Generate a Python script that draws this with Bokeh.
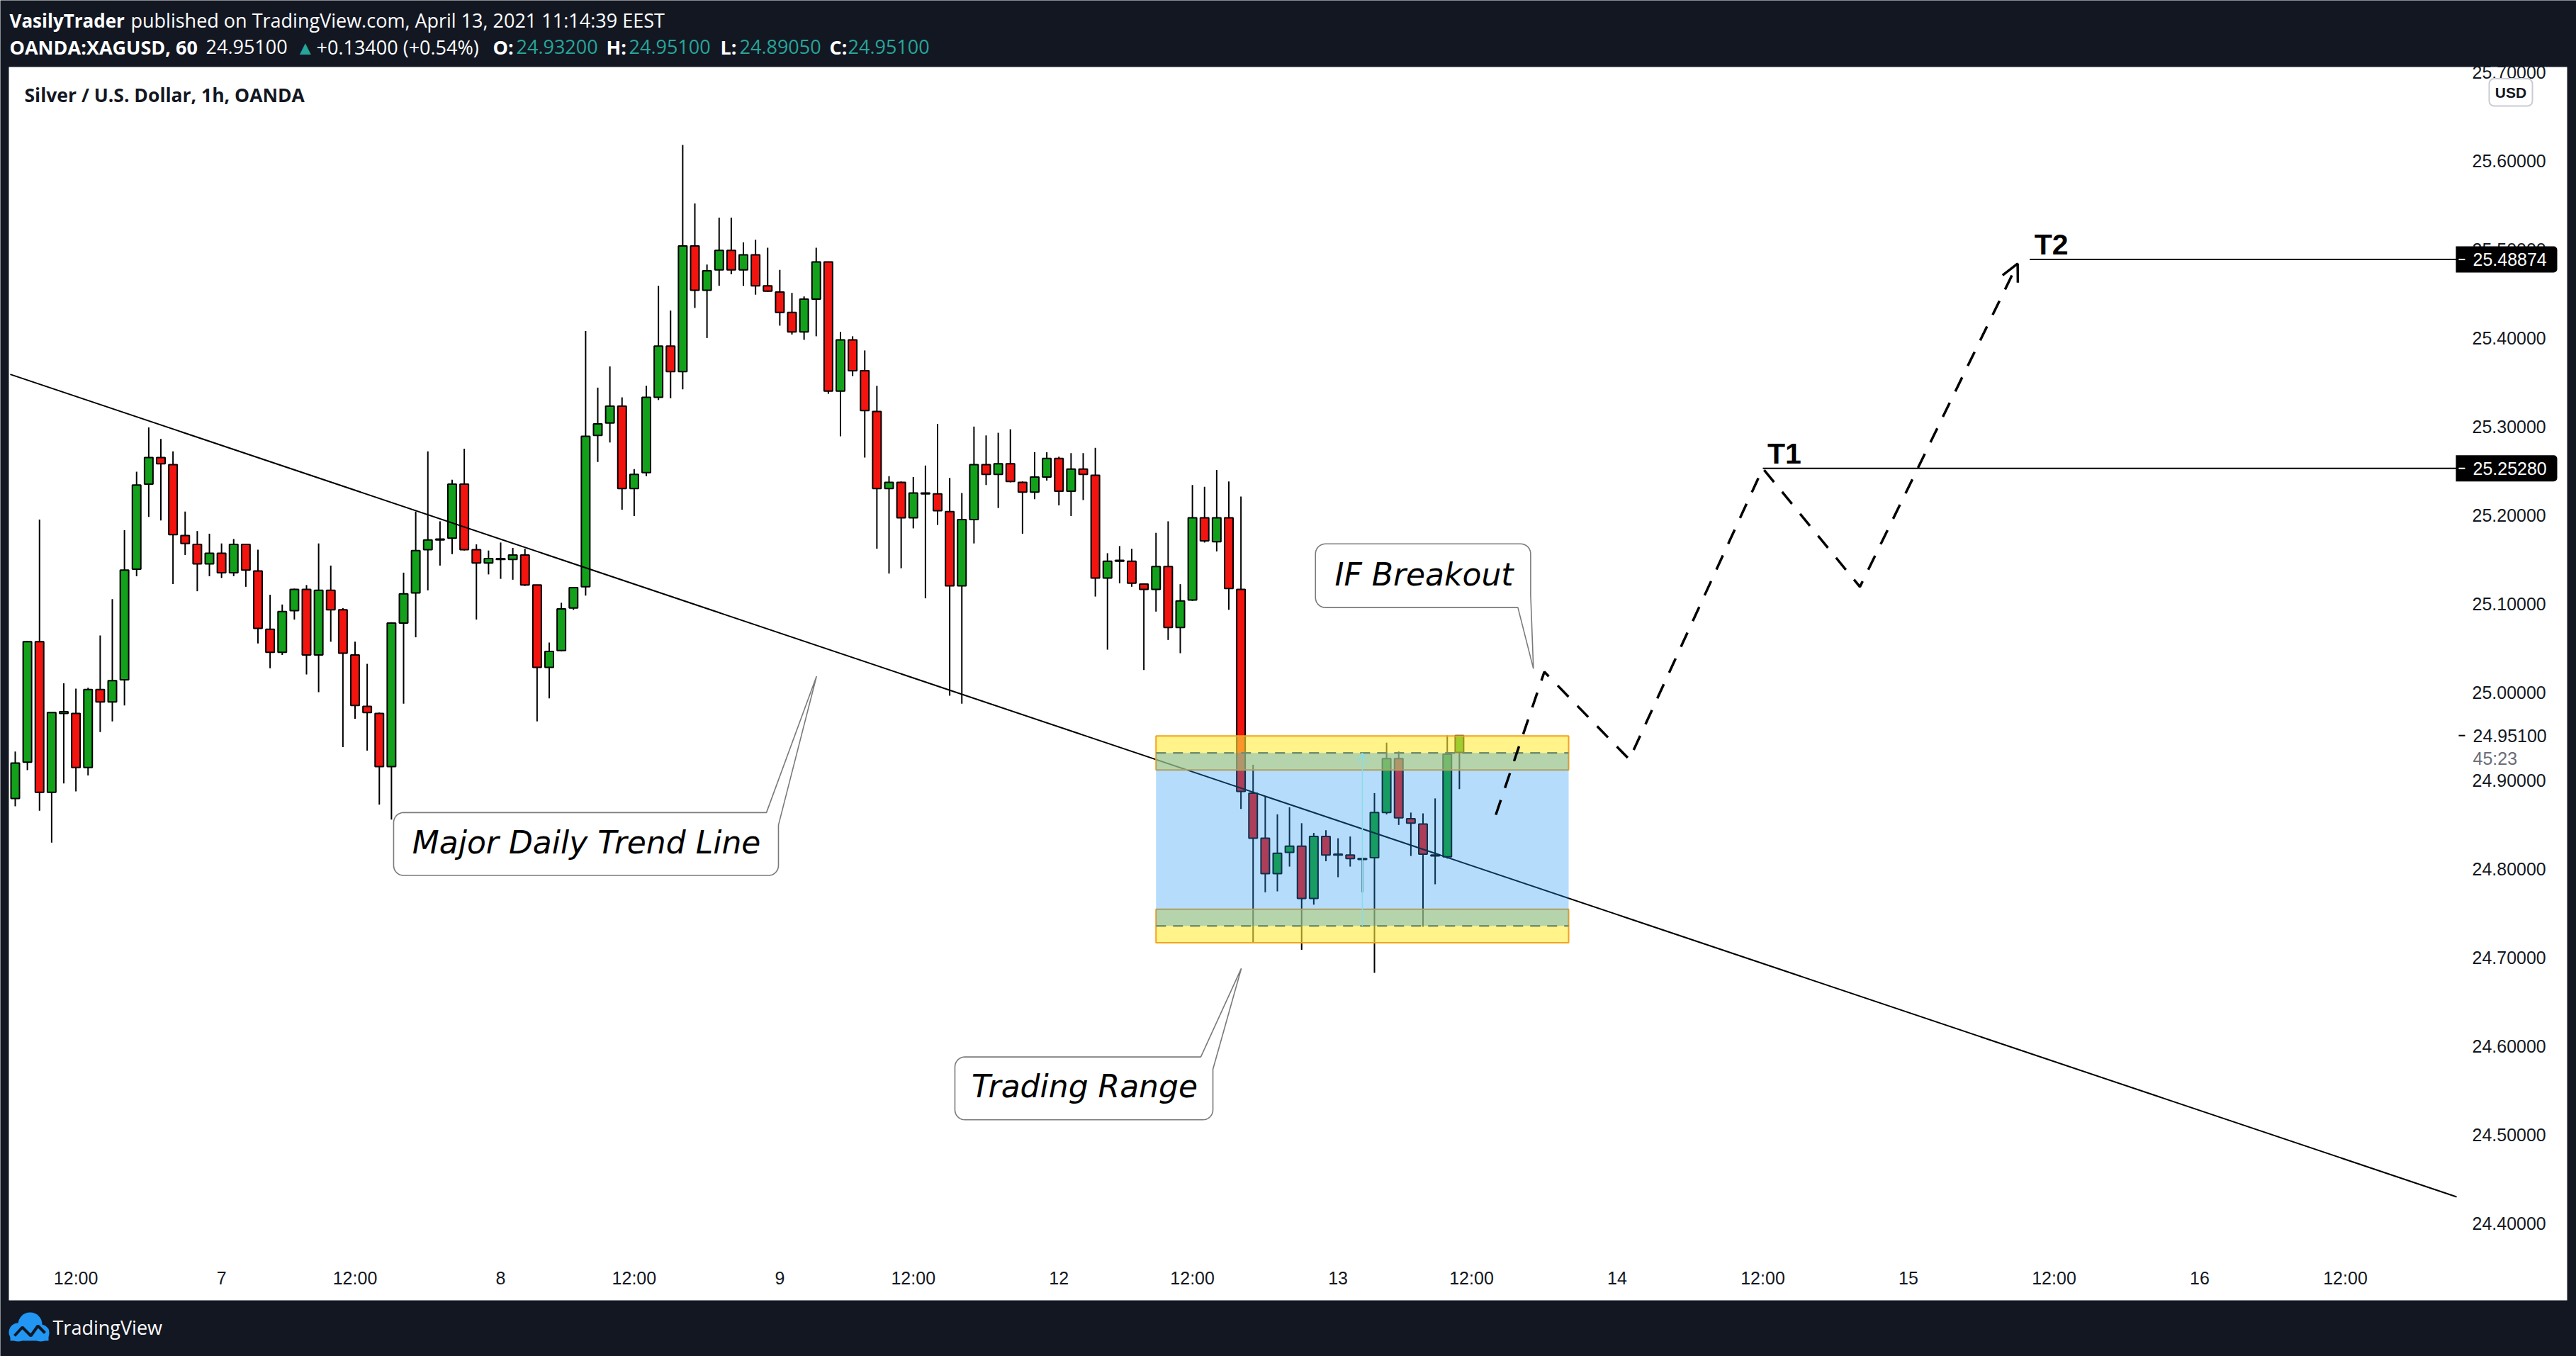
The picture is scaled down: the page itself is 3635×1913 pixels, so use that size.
import numpy as np
from bokeh.plotting import figure
from bokeh.models import (Range1d, LinearAxis, FixedTicker, PrintfTickFormatter, Label,
                          ColumnDataSource, Arrow, OpenHead, Grid, Quad)
from bokeh.core.properties import value
from bokeh.embed import file_html
from bokeh.resources import INLINE

# ---------------- data ----------------
opens = [24.880, 24.921, 25.057, 24.887, 24.976, 24.976, 24.915, 25.003, 24.989, 25.014,
         25.139, 25.235, 25.265, 25.257, 25.177, 25.167, 25.145, 25.157, 25.135, 25.167,
         25.137, 25.071, 25.045, 25.092, 25.116, 25.042, 25.115, 25.093, 25.042, 24.984,
         24.976, 24.916, 25.078, 25.112, 25.161, 25.172, 25.174, 25.235, 25.161, 25.146,
         25.150, 25.150, 25.155, 25.121, 25.028, 25.047, 25.095, 25.119, 25.290, 25.304,
         25.323, 25.230, 25.248, 25.333, 25.391, 25.362, 25.504, 25.454, 25.477, 25.499,
         25.477, 25.494, 25.459, 25.452, 25.429, 25.407, 25.444, 25.486, 25.340, 25.398,
         25.363, 25.317, 25.230, 25.237, 25.197, 25.225, 25.224, 25.204, 25.120, 25.195,
         25.257, 25.246, 25.258, 25.237, 25.226, 25.243, 25.264, 25.227, 25.252, 25.245,
         25.129, 25.148, 25.148, 25.122, 25.116, 25.142, 25.073, 25.104, 25.197, 25.170,
         25.197, 25.116, 24.886, 24.835, 24.795, 24.819, 24.826, 24.767, 24.837, 24.816,
         24.816, 24.812, 24.813, 24.864, 24.925, 24.857, 24.851, 24.815, 24.814, 24.932]
highs = [24.933, 25.058, 25.195, 24.977, 25.010, 25.004, 25.005, 25.064, 25.105, 25.183,
         25.249, 25.299, 25.286, 25.272, 25.204, 25.182, 25.179, 25.168, 25.173, 25.167,
         25.161, 25.110, 25.099, 25.117, 25.121, 25.168, 25.143, 25.095, 25.057, 25.032,
         24.977, 25.079, 25.135, 25.204, 25.272, 25.193, 25.240, 25.275, 25.167, 25.160,
         25.169, 25.163, 25.162, 25.121, 25.056, 25.101, 25.118, 25.408, 25.344, 25.368,
         25.333, 25.252, 25.346, 25.459, 25.431, 25.618, 25.552, 25.483, 25.536, 25.536,
         25.508, 25.511, 25.502, 25.477, 25.451, 25.447, 25.502, 25.486, 25.407, 25.402,
         25.386, 25.346, 25.244, 25.238, 25.243, 25.256, 25.303, 25.242, 25.225, 25.300,
         25.290, 25.293, 25.297, 25.238, 25.271, 25.271, 25.266, 25.270, 25.270, 25.276,
         25.157, 25.165, 25.162, 25.123, 25.180, 25.193, 25.122, 25.234, 25.232, 25.251,
         25.238, 25.221, 24.918, 24.882, 24.862, 24.870, 24.852, 24.841, 24.844, 24.835,
         24.837, 24.812, 24.886, 24.943, 24.933, 24.864, 24.863, 24.880, 24.951, 24.951]
lows = [24.871, 24.912, 24.866, 24.830, 24.897, 24.888, 24.906, 24.955, 24.967, 24.985,
        25.131, 25.198, 25.194, 25.122, 25.155, 25.114, 25.131, 25.129, 25.131, 25.119,
        25.055, 25.027, 25.042, 25.082, 25.020, 25.000, 25.057, 24.938, 24.970, 24.934,
        24.873, 24.856, 24.987, 25.062, 25.115, 25.143, 25.156, 25.160, 25.082, 25.133,
        25.128, 25.127, 25.120, 24.967, 24.993, 25.046, 25.093, 25.109, 25.260, 25.282,
        25.206, 25.199, 25.244, 25.330, 25.332, 25.342, 25.434, 25.400, 25.459, 25.472,
        25.459, 25.449, 25.452, 25.414, 25.404, 25.398, 25.402, 25.337, 25.289, 25.357,
        25.265, 25.162, 25.134, 25.140, 25.185, 25.106, 25.189, 24.996, 24.987, 25.168,
        25.234, 25.208, 25.237, 25.179, 25.218, 25.239, 25.211, 25.199, 25.217, 25.108,
        25.048, 25.123, 25.119, 25.025, 25.091, 25.059, 25.044, 25.103, 25.169, 25.159,
        25.093, 24.868, 24.717, 24.774, 24.775, 24.803, 24.709, 24.760, 24.809, 24.791,
        24.803, 24.774, 24.683, 24.862, 24.850, 24.815, 24.735, 24.783, 24.812, 24.8905]
closes = [24.920, 25.057, 24.887, 24.977, 24.978, 24.915, 25.003, 24.989, 25.013, 25.138,
          25.234, 25.265, 25.258, 25.178, 25.168, 25.145, 25.157, 25.135, 25.167, 25.138,
          25.072, 25.045, 25.091, 25.116, 25.042, 25.115, 25.093, 25.044, 24.985, 24.977,
          24.916, 25.078, 25.111, 25.160, 25.172, 25.173, 25.235, 25.161, 25.146, 25.151,
          25.151, 25.155, 25.121, 25.028, 25.046, 25.094, 25.118, 25.289, 25.303, 25.323,
          25.230, 25.246, 25.333, 25.391, 25.362, 25.504, 25.454, 25.476, 25.499, 25.477,
          25.494, 25.459, 25.453, 25.429, 25.407, 25.444, 25.486, 25.340, 25.398, 25.363,
          25.318, 25.230, 25.237, 25.197, 25.225, 25.224, 25.205, 25.120, 25.195, 25.257,
          25.246, 25.258, 25.238, 25.226, 25.243, 25.264, 25.227, 25.252, 25.246, 25.129,
          25.148, 25.149, 25.123, 25.116, 25.142, 25.073, 25.103, 25.197, 25.171, 25.197,
          25.117, 24.888, 24.835, 24.795, 24.818, 24.826, 24.767, 24.837, 24.816, 24.817,
          24.812, 24.811, 24.864, 24.925, 24.858, 24.852, 24.817, 24.816, 24.930, 24.951]
bar_index = list(range(len(opens)))

time_ticks = [5, 17, 28, 40, 51, 63, 74, 86, 97, 109, 120, 132, 144, 156, 168, 180, 192]
time_labels = ["12:00", "7", "12:00", "8", "12:00", "9", "12:00", "12", "12:00", "13",
               "12:00", "14", "12:00", "15", "12:00", "16", "12:00"]
price_ticks = [24.4, 24.5, 24.6, 24.7, 24.8, 24.9, 25.0, 25.1, 25.2, 25.3, 25.4, 25.5, 25.6, 25.7]

trend_x = [-0.41, 201.17]
trend_y = [25.359, 24.430]

range_x = [94, 128]
zone_upper = [24.9122, 24.9505]
zone_lower = [24.7169, 24.7549]
range_arrow_x = 111

path_x = [122, 126, 133, 144, 152, 165]
path_y = [24.8615, 25.023, 24.924, 25.2528, 25.119, 25.484]

target_names = ["T1", "T2"]
target_levels = [25.25280, 25.48874]
target_start = [144, 166]

header1 = [("VasilyTrader", "bold", "#ffffff"),
           ("published on TradingView.com, April 13, 2021 11:14:39 EEST", "normal", "#ffffff")]
header2 = [("OANDA:XAGUSD, 60", "bold", "#ffffff"), ("24.95100", "normal", "#ffffff"),
           ("\u25B2", "normal", "#26a69a"), ("+0.13400 (+0.54%)", "normal", "#ffffff"),
           ("O:", "bold", "#ffffff"), ("24.93200", "normal", "#26a69a"),
           ("H:", "bold", "#ffffff"), ("24.95100", "normal", "#26a69a"),
           ("L:", "bold", "#ffffff"), ("24.89050", "normal", "#26a69a"),
           ("C:", "bold", "#ffffff"), ("24.95100", "normal", "#26a69a")]
header1_px = [13, 184]
header2_px = [13, 290, 417, 446, 695, 728, 855, 887, 1016, 1043, 1170, 1196]

callouts = [
    dict(text="Major Daily Trend Line", left=31.18, right=62.89, top=24.864, bottom=24.793,
         tail=(61.90, 24.864, 66.03, 25.018, 62.89, 24.850), corner="tr", tx=47.07, ty=24.8305),
    dict(text="Trading Range", left=77.43, right=98.69, top=24.588, bottom=24.517,
         tail=(97.69, 24.588, 101.03, 24.688, 98.69, 24.574), corner="tr", tx=88.12, ty=24.5545),
    dict(text="IF Breakout", left=107.14, right=124.87, top=25.1675, bottom=25.0956,
         tail=(123.82, 25.0956, 125.10, 25.0265, 124.87, 25.110), corner="br", tx=116.09, ty=25.1330),
]

# ---------------- layout helpers (page pixel -> data) ----------------
SX = 17.125   # px per bar
SY = 1249.0   # px per price unit
def px2idx(x):
    return (x - 21.0) / SX
def py2p(y):
    return 25.0 + (976.0 - y) / SY

GREEN = "#13a11c"
RED = "#f2140f"
DARK = "#131722"

W, H = 3635, 1913
p = figure(width=W, height=H, output_backend="svg", toolbar_location=None,
           x_axis_location=None, y_axis_location=None,
           x_range=Range1d(px2idx(0), px2idx(W)), y_range=Range1d(py2p(H), py2p(0)),
           min_border_left=0, min_border_right=0, min_border_top=0, min_border_bottom=0,
           background_fill_color=DARK, border_fill_color=DARK, outline_line_color=None)
p.center = [r for r in p.center if not isinstance(r, Grid)]

HAS_RADIUS = "border_radius" in Quad.properties()
def rq(**kw):
    if not HAS_RADIUS:
        kw.pop("border_radius", None)
    return kw

# white chart pane
p.quad(left=[px2idx(12)], right=[px2idx(3622)], top=[py2p(94)], bottom=[py2p(1834)],
       fill_color="white", line_color=None)

# ---------------- candles ----------------
src = ColumnDataSource(dict(
    i=bar_index, o=opens, h=highs, l=lows, c=closes,
    top=[max(a, b) for a, b in zip(opens, closes)],
    bot=[min(a, b) for a, b in zip(opens, closes)],
    col=[GREEN if c >= o else RED for o, c in zip(opens, closes)]))
p.segment(x0="i", y0="h", x1="i", y1="l", source=src, line_color="black", line_width=2)
p.vbar(x="i", width=0.7, top="top", bottom="bot", fill_color="col", line_color="black",
       line_width=2, source=src)

# trend line
p.line(trend_x, trend_y, line_color="black", line_width=2)

# trading range zones
p.quad(left=[range_x[0]] * 2, right=[range_x[1]] * 2,
       bottom=[zone_upper[0], zone_lower[0]], top=[zone_upper[1], zone_lower[1]],
       fill_color="#ffeb3b", fill_alpha=0.6, line_color="#f5a31a", line_width=2)
mid_up = sum(zone_upper) / 2
mid_lo = sum(zone_lower) / 2
p.quad(left=[range_x[0]], right=[range_x[1]], bottom=[mid_lo], top=[mid_up],
       fill_color="#2196f3", fill_alpha=0.33, line_color=None)
p.segment(x0=[range_x[0]] * 2, x1=[range_x[1]] * 2, y0=[mid_up, mid_lo], y1=[mid_up, mid_lo],
          line_color="#74906a", line_width=2.5, line_dash="14 10")
p.add_layout(Arrow(x_start=range_arrow_x, y_start=mid_lo, x_end=range_arrow_x, y_end=mid_up,
                   line_color="#86dde8", line_width=1.5,
                   end=OpenHead(size=14, line_color="#86dde8", line_width=1.5)))

# forecast path
p.line(path_x, path_y, line_color="black", line_width=3.5, line_dash="22 18")
p.add_layout(Arrow(x_start=path_x[-2], y_start=path_y[-2], x_end=path_x[-1], y_end=path_y[-1],
                   line_alpha=0.0,
                   end=OpenHead(size=24, line_color="black", line_width=3.5)))

# targets
p.segment(x0=target_start, x1=[px2idx(3466)] * 2, y0=target_levels, y1=target_levels,
          line_color="black", line_width=2)
p.text(x=[s + 0.38 for s in target_start], y=[t + 21.0 / SY for t in target_levels],
       text=target_names, text_font=value("Liberation Sans"), text_font_style="bold",
       text_font_size="41px", text_color="black", text_baseline="middle")

# callouts
R_PX = 14.0
def callout_outline(c):
    L, Rr = c["left"] * SX, c["right"] * SX
    T, B = -c["top"] * SY, -c["bottom"] * SY
    ax, ay, tx, ty, bx, by = c["tail"]
    A = (ax * SX, -ay * SY); TIP = (tx * SX, -ty * SY); BP = (bx * SX, -by * SY)
    def arc(cx, cy, a0, a1):
        ang = np.radians(np.linspace(a0, a1, 10))
        return [(cx + R_PX * np.cos(a), cy + R_PX * np.sin(a)) for a in ang]
    pts = arc(L + R_PX, T + R_PX, 180, 270)
    pts += [A, TIP, BP] if c["corner"] == "tr" else arc(Rr - R_PX, T + R_PX, 270, 360)
    pts += [BP, TIP, A] if c["corner"] == "br" else arc(Rr - R_PX, B - R_PX, 0, 90)
    pts += arc(L + R_PX, B - R_PX, 90, 180)
    return [x / SX for x, y in pts], [-y / SY for x, y in pts]

for c in callouts:
    xs, ys = callout_outline(c)
    p.patch(xs, ys, fill_color="white", line_color="#7a7a7a", line_width=1.6)
    p.add_layout(Label(x=c["tx"], y=c["ty"], text=c["text"], text_font="DejaVu Sans",
                       text_font_style="italic", text_font_size="44px", text_color="black",
                       text_align="center", text_baseline="middle"))

# symbol title inside chart
p.add_layout(Label(x=px2idx(34), y=py2p(133), text="Silver / U.S. Dollar, 1h, OANDA",
                   text_font="Open Sans", text_font_style="bold", text_font_size="26.5px",
                   text_color="#131722", text_baseline="middle"))

# ---------------- axes ----------------
yax = LinearAxis(fixed_location=px2idx(3466), ticker=FixedTicker(ticks=price_ticks),
                 formatter=PrintfTickFormatter(format="%.5f"),
                 axis_line_color=None, major_tick_line_color=None, minor_tick_line_color=None,
                 major_tick_in=0, major_tick_out=0, major_label_standoff=22,
                 major_label_text_font="Liberation Sans", major_label_text_font_size="25px",
                 major_label_text_color="#131722")
p.add_layout(yax, "right")
xax = LinearAxis(fixed_location=py2p(1760), ticker=FixedTicker(ticks=time_ticks),
                 major_label_overrides={t: s for t, s in zip(time_ticks, time_labels)},
                 axis_line_color=None, major_tick_line_color=None, minor_tick_line_color=None,
                 major_tick_in=0, major_tick_out=0, major_label_standoff=28,
                 major_label_text_font="Liberation Sans", major_label_text_font_size="25px",
                 major_label_text_color="#131722")
p.add_layout(xax, "below")

# ---------------- price-scale overlays ----------------
box_l, box_r = px2idx(3465), px2idx(3608)
half_h = 18.5 / SY
p.quad(**rq(left=[box_l] * 2, right=[box_r] * 2,
            bottom=[t - half_h for t in target_levels], top=[t + half_h for t in target_levels],
            fill_color="black", line_color=None, border_radius=[0, 5, 5, 0], level="overlay"))
p.segment(x0=[px2idx(3469)] * 2, x1=[px2idx(3478)] * 2, y0=target_levels, y1=target_levels,
          line_color="white", line_width=2, level="overlay")
p.text(x=[px2idx(3489)] * 2, y=target_levels, text=["%.5f" % t for t in target_levels],
       text_font=value("Liberation Sans"), text_font_size="25px", text_color="white",
       text_baseline="middle", level="overlay")
last = closes[-1]
p.segment(x0=[px2idx(3469)], x1=[px2idx(3478)], y0=[last], y1=[last],
          line_color="black", line_width=2, level="overlay")
p.text(x=[px2idx(3489)], y=[last], text=["%.5f" % last],
       text_font=value("Liberation Sans"), text_font_size="25px", text_color="#131722",
       text_baseline="middle", level="overlay")
p.text(x=[px2idx(3489)], y=[py2p(1069)], text=["45:23"],
       text_font=value("Liberation Sans"), text_font_size="25px", text_color="#6a6d78",
       text_baseline="middle", level="overlay")
p.quad(**rq(left=[px2idx(3512)], right=[px2idx(3573)], top=[py2p(110.5)], bottom=[py2p(149)],
            fill_color="white", line_color="#c9ccd4", line_width=2, border_radius=7,
            level="overlay"))
p.text(x=[px2idx(3542.5)], y=[py2p(130)], text=["USD"], text_font=value("Liberation Sans"),
       text_font_style="bold", text_font_size="21px", text_color="#131722",
       text_align="center", text_baseline="middle", level="overlay")

# ---------------- header / footer ----------------
for (t, st, col), x in zip(header1, header1_px):
    p.add_layout(Label(x=px2idx(x), y=py2p(28), text=t, text_font="Open Sans",
                       text_font_style=st, text_font_size="26px" if st == "bold" else "27px",
                       text_color=col, text_baseline="middle"))
for (t, st, col), x in zip(header2, header2_px):
    p.add_layout(Label(x=px2idx(x), y=py2p(65.5), text=t, text_font="Open Sans",
                       text_font_style=st, text_font_size="27px", text_color=col,
                       text_baseline="middle"))
# logo mark (cloud) and wordmark
p.scatter(x=[px2idx(25), px2idx(42), px2idx(57)], y=[py2p(1879), py2p(1868), py2p(1880)],
          size=[26, 34, 24], marker="circle", fill_color="#2196f3", line_color=None)
p.quad(left=[px2idx(14)], right=[px2idx(68)], top=[py2p(1874)], bottom=[py2p(1891)],
       fill_color="#2196f3", line_color=None)
p.line([px2idx(20), px2idx(31), px2idx(43), px2idx(53), px2idx(63)],
       [py2p(1884), py2p(1872), py2p(1884), py2p(1870), py2p(1880)],
       line_color=DARK, line_width=4)
p.add_layout(Label(x=px2idx(74), y=py2p(1872), text="TradingView", text_font="Open Sans",
                   text_font_size="27px", text_color="#ffffff", text_baseline="middle"))

open("out.html", "w").write(file_html(p, INLINE))
